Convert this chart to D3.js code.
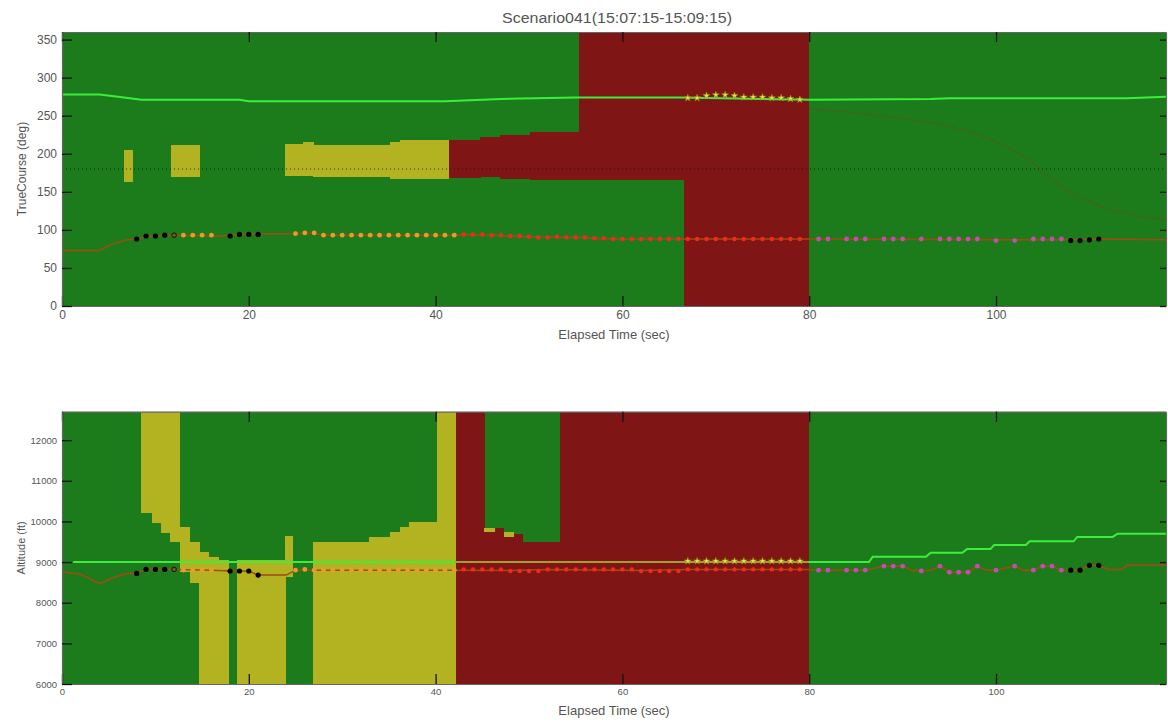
<!DOCTYPE html>
<html><head><meta charset="utf-8">
<script src="https://cdn.jsdelivr.net/npm/d3@7"></script>
<style>
body{margin:0;background:#fff}
svg{display:block}
text{font-family:Arial,"Liberation Sans",sans-serif}
</style>
</head><body>
<svg id="c" width="1168" height="722"></svg>
<script>
// ---------------- DATA ----------------
const titleText = "Scenario041(15:07:15-15:09:15)";
const timeMax = 118.2;
const xTicks = [0, 20, 40, 60, 80, 100];
const courseTicks = [0, 50, 100, 150, 200, 250, 300, 350];
const altTicks = [6000, 7000, 8000, 9000, 10000, 11000, 12000];

// bands: [t0, t1, low, high]
const courseYellow = [
  [6.6, 7.5, 163, 205],
  [11.7, 14.7, 170, 212],
  [23.9, 25.8, 171, 213],
  [25.8, 26.9, 171, 215],
  [26.9, 29.0, 169, 211],
  [29.0, 35.1, 170, 212],
  [35.1, 36.2, 167, 216],
  [36.2, 41.4, 167, 218]
];
const courseRed = [
  [41.4, 44.8, 168, 218],
  [44.8, 46.9, 170, 222],
  [46.9, 50.1, 167, 225],
  [50.1, 55.4, 166, 228],
  [55.4, 66.6, 166, 360],
  [66.6, 79.9, 0, 360]
];
const altYellow = [
  [8.5, 9.6, 10200, 12700],
  [9.6, 10.6, 9950, 12700],
  [10.6, 11.6, 9720, 12700],
  [11.6, 12.6, 9500, 12700],
  [12.6, 13.7, 8760, 9865],
  [13.7, 14.7, 8490, 9500],
  [14.7, 15.7, 6000, 9260],
  [15.7, 16.8, 6000, 9130],
  [16.8, 17.8, 6000, 9050],
  [18.7, 23.9, 6000, 9050],
  [23.9, 24.7, 8640, 9640],
  [26.9, 32.9, 6000, 9500],
  [32.9, 35.1, 6000, 9620],
  [35.1, 36.2, 6000, 9740],
  [36.2, 37.1, 6000, 9865],
  [37.1, 40.1, 6000, 9990],
  [40.1, 42.1, 6000, 12700],
  [45.2, 46.3, 9740, 9840],
  [47.3, 48.3, 9620, 9730]
];
const altRed = [
  [42.1, 45.2, 6000, 12700],
  [45.2, 46.3, 6000, 9740],
  [46.3, 47.3, 6000, 9830],
  [47.3, 48.3, 6000, 9620],
  [48.3, 49.3, 6000, 9700],
  [49.3, 53.3, 6000, 9500],
  [53.3, 79.9, 6000, 12700]
];

// lines: [t, value]
const courseTarget = [[0,278],[4,278],[6,275],[8.5,271],[19,271],[20,269],[41,269],[47,272],[55,274],[66,274],[80,271],[93,272],[95,273],[114,273],[118.2,275]];
const courseOwn = [[0,73],[4,73],[5.5,82],[7,87],[8,88],[9,91],[11,93],[17,92],[19,94],[21,95],[24,95],[27,96],[28,93],[42,93],[43,94],[46,93],[50,91],[55,90],[59,88],[80,88],[107,87],[111,88],[118.2,87]];
const courseProjection = [[80,259],[85,254],[90,246],[95,236],[98,225],[101,210],[104,188],[106,166],[109,143],[112,128],[115,119],[118.2,113]];
const courseReference = 180;

const altTarget = [[1.2,9000],[86.4,9000],[86.8,9130],[92.5,9130],[93,9230],[96.4,9230],[96.9,9320],[99.4,9320],[99.8,9420],[103.2,9420],[103.6,9510],[108.3,9510],[108.7,9620],[112.5,9620],[113,9700],[118.2,9700]];
const altTargetDimmed = [42.1, 79.9];
const altOwn = [[0,8760],[2,8700],[4,8470],[5.5,8620],[7,8720],[8,8720],[9,8820],[12,8820],[16,8800],[18,8780],[20,8780],[21,8680],[24,8680],[25,8800],[42,8800],[48,8790],[52,8820],[62,8790],[67,8820],[80,8820],[81,8800],[86,8800],[88,8900],[90,8900],[91,8800],[92,8780],[93,8800],[94,8900],[95,8750],[97,8750],[98,8900],[99,8800],[100,8800],[101,8850],[102,8900],[103,8800],[104,8800],[105,8900],[106,8900],[107,8800],[109,8800],[110,8920],[111,8920],[112,8820],[113.5,8820],[114,8920],[118.2,8920]];

// markers
const blackT      = [8, 9, 10, 11, 18, 19, 20, 21, 108, 109, 110, 111];
const blackCourse = [88, 92, 92, 93, 92, 94, 94, 94, 86, 86, 87, 88];
const blackAlt    = [8720, 8820, 8820, 8820, 8780, 8780, 8780, 8680, 8800, 8800, 8920, 8920];
const hollowT = [12];
const hollowCourse = [93];
const hollowAlt = [8820];
const orangeT      = [13,14,15,16,25,26,27,28,29,30,31,32,33,34,35,36,37,38,39,40,41,42];
const orangeCourse = [93,93,93,93,95,96,96,93,93,93,93,93,93,93,93,93,93,93,93,93,93,93];
const orangeAlt    = [8800,8800,8800,8800,8800,8820,8800,8800,8800,8810,8800,8800,8790,8800,8800,8810,8800,8800,8800,8800,8800,8800];
const redT = [43,44,45,46,47,48,49,50,51,52,53,54,55,56,57,58,59,60,61,62,63,64,65,66,67,68,69,70,71,72,73,74,75,76,77,78,79];
const redCourse = [94,94,94,93,93,92,92,91,90,90,91,90,90,90,89,89,88,88,88,88,88,88,88,88,88,88,88,88,88,88,88,88,88,88,88,88,88];
const redAlt = [8820,8820,8820,8820,8820,8780,8780,8780,8780,8820,8820,8820,8820,8820,8820,8820,8820,8820,8820,8780,8780,8780,8780,8780,8820,8820,8820,8820,8820,8820,8820,8820,8820,8820,8820,8820,8820];
const magentaT = [81,82,84,85,86,88,89,90,92,94,95,96,97,98,100,102,104,105,106,107];
const magentaCourse = [88,88,88,88,88,88,88,88,88,88,88,88,88,88,86,86,88,88,88,88];
const magentaAlt = [8800,8800,8800,8800,8800,8900,8900,8900,8780,8900,8750,8750,8750,8900,8800,8900,8800,8900,8900,8800];
const starT = [67,68,69,70,71,72,73,74,75,76,77,78,79];
const starCourse = [272,272,275,276,276,275,273,273,273,272,272,271,270];
const starAlt = [9000,9000,9000,9000,9000,9000,9000,9000,9000,9000,9000,9000,9000];

// ---------------- DRAW ----------------
const C = {
  green: "#1c7c1c", red: "#801515", yellow: "#b3b322",
  target: "#3cee3c", targetDim: "#a0a02a", own: "#a34a12", proj: "#8a3a14",
  black: "#000", orange: "#ec9a30", redDot: "#f22a1e", magenta: "#c34db0",
  star: "#e6e64a", starEdge: "#8d8d1a", text: "#555"
};
const svg = d3.select("#c");
const x = d3.scaleLinear().domain([0, timeMax]).range([62, 1166]);

function panel(cfg) {
  const y = d3.scaleLinear().domain(cfg.yDomain).range(cfg.yRange);
  const g = svg.append("g");
  const [yb, yt] = cfg.yRange;
  const clipId = "clip" + cfg.id;
  svg.append("clipPath").attr("id", clipId).append("rect")
    .attr("x", x(0)).attr("y", yt).attr("width", x(timeMax) - x(0)).attr("height", yb - yt);
  const plot = g.append("g").attr("clip-path", `url(#${clipId})`);
  plot.append("rect").attr("x", x(0)).attr("y", yt)
    .attr("width", x(timeMax) - x(0)).attr("height", yb - yt).attr("fill", C.green);
  function bands(arr, color) {
    plot.append("g").selectAll("rect").data(arr).join("rect")
      .attr("x", d => x(d[0])).attr("width", d => x(d[1]) - x(d[0]) + 0.5)
      .attr("y", d => y(d[3])).attr("height", d => y(d[2]) - y(d[3]))
      .attr("fill", color).attr("shape-rendering", "crispEdges");
  }
  bands(cfg.red, C.red);
  bands(cfg.yellow, C.yellow);

  const line = d3.line().x(d => x(d[0])).y(d => y(d[1]));
  if (cfg.reference !== undefined) {
    plot.append("line").attr("x1", x(0)).attr("x2", x(timeMax))
      .attr("y1", y(cfg.reference)).attr("y2", y(cfg.reference))
      .attr("stroke", "#111").attr("stroke-width", 1).attr("stroke-dasharray", "1,3")
      .attr("opacity", 0.8);
  }
  if (cfg.projection) {
    plot.append("path").datum(cfg.projection)
      .attr("d", d3.line().x(d => x(d[0])).y(d => y(d[1])).curve(d3.curveMonotoneX))
      .attr("fill", "none").attr("stroke", C.proj).attr("stroke-width", 1.2)
      .attr("stroke-dasharray", "2,2").attr("opacity", 0.75);
  }
  plot.append("path").datum(cfg.own).attr("d", line)
    .attr("fill", "none").attr("stroke", C.own).attr("stroke-width", 1.5);
  plot.append("path").datum(cfg.target).attr("d", line)
    .attr("fill", "none").attr("stroke", C.target).attr("stroke-width", 2);
  if (cfg.dim) {
    const dimId = "dim" + cfg.id;
    svg.append("clipPath").attr("id", dimId).append("rect")
      .attr("x", x(cfg.dim[0])).attr("y", yt).attr("width", x(cfg.dim[1]) - x(cfg.dim[0])).attr("height", yb - yt);
    plot.append("path").datum(cfg.target).attr("d", line).attr("clip-path", `url(#${dimId})`)
      .attr("fill", "none").attr("stroke", C.targetDim).attr("stroke-width", 2);
  }
  function dots(ts, vs, fill, r, stroke) {
    plot.append("g").selectAll("circle").data(ts.map((t, i) => [t, vs[i]])).join("circle")
      .attr("cx", d => x(d[0])).attr("cy", d => y(d[1])).attr("r", r)
      .attr("fill", fill).attr("stroke", stroke || "none").attr("stroke-width", 1);
  }
  dots(orangeT, cfg.orange, C.orange, 2.4);
  dots(redT, cfg.redDots, C.redDot, 2.2);
  dots(magentaT, cfg.magenta, C.magenta, 2.4);
  dots(blackT, cfg.black, C.black, 2.6);
  dots(hollowT, cfg.hollow, "none", 2.3, "#111");
  const star = d3.symbol().type(d3.symbolStar).size(15);
  plot.append("g").selectAll("path").data(starT.map((t, i) => [t, cfg.star[i]])).join("path")
    .attr("transform", d => `translate(${x(d[0])},${y(d[1]) - 1})`).attr("d", star)
    .attr("fill", C.star).attr("stroke", C.starEdge).attr("stroke-width", 0.6);

  // axes
  const fs = cfg.tickFont;
  const ax = g.append("g");
  ax.append("g").attr("transform", `translate(0,${yb})`)
    .call(d3.axisBottom(x).tickValues(xTicks).tickSizeInner(-10).tickSizeOuter(0).tickPadding(4));
  ax.append("g").attr("transform", `translate(0,${yt})`)
    .call(d3.axisTop(x).tickValues(xTicks).tickSizeInner(-10).tickSizeOuter(0).tickFormat(""));
  ax.append("g").attr("transform", `translate(${x(0)},0)`)
    .call(d3.axisLeft(y).tickValues(cfg.ticks).tickFormat(d3.format("d"))
      .tickSizeInner(-10).tickSizeOuter(0).tickPadding(5));
  ax.append("g").attr("transform", `translate(${x(timeMax)},0)`)
    .call(d3.axisRight(y).tickValues(cfg.ticks).tickSizeInner(-6).tickSizeOuter(0).tickFormat(""));
  ax.selectAll(".tick line").attr("stroke", "#111").attr("stroke-width", 1.3);
  ax.selectAll(".domain").attr("stroke", "#666").attr("stroke-width", 1.2);
  ax.selectAll("text").attr("fill", C.text).style("font-size", fs + "px")
    .style("font-family", "Arial, 'Liberation Sans', sans-serif");

  g.append("text").attr("x", (x(0) + x(timeMax)) / 2).attr("y", cfg.xLabelY)
    .attr("text-anchor", "middle").attr("fill", C.text).style("font-size", "13px")
    .text("Elapsed Time (sec)");
  g.append("text").attr("transform", `translate(${cfg.yLabelX},${(yb + yt) / 2}) rotate(-90)`)
    .attr("text-anchor", "middle").attr("fill", C.text).style("font-size", cfg.yLabelFont + "px")
    .text(cfg.yLabel);
}

svg.append("text").attr("x", 617).attr("y", 23).attr("text-anchor", "middle")
  .attr("fill", "#555").style("font-size", "14px").attr("textLength", 230)
  .attr("lengthAdjust", "spacingAndGlyphs").text(titleText);

panel({
  id: 1, yDomain: [0, 360], yRange: [306, 32], ticks: courseTicks,
  yellow: courseYellow, red: courseRed, target: courseTarget, own: courseOwn,
  projection: courseProjection, reference: courseReference,
  orange: orangeCourse, redDots: redCourse, magenta: magentaCourse, black: blackCourse,
  hollow: hollowCourse, star: starCourse,
  tickFont: 12, xLabelY: 339, yLabel: "TrueCourse (deg)", yLabelX: 26, yLabelFont: 12
});
panel({
  id: 2, yDomain: [6000, 12700], yRange: [684, 411.7], ticks: altTicks,
  yellow: altYellow, red: altRed, target: altTarget, own: altOwn, dim: altTargetDimmed,
  orange: orangeAlt, redDots: redAlt, magenta: magentaAlt, black: blackAlt,
  hollow: hollowAlt, star: starAlt,
  tickFont: 9.5, xLabelY: 715, yLabel: "Altitude (ft)", yLabelX: 25, yLabelFont: 11
});
</script>
</body></html>
